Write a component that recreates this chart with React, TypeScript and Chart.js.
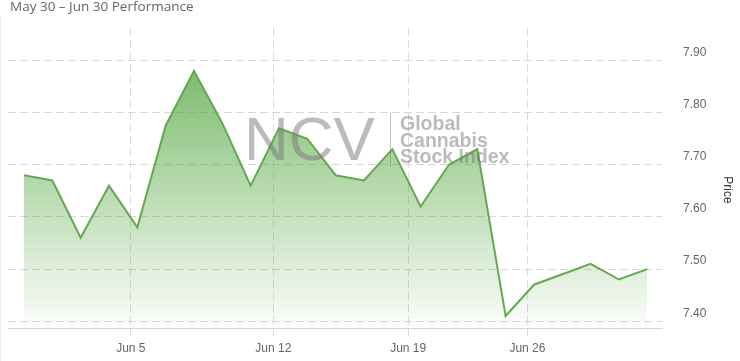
import React, { useEffect, useRef } from "react";
import { Chart, registerables } from "chart.js";

Chart.register(...registerables);

// ---- data ----
const tradingDays = [
  "May 30", "May 31", "Jun 1", "Jun 2", "Jun 5", "Jun 6", "Jun 7", "Jun 8",
  "Jun 9", "Jun 12", "Jun 13", "Jun 14", "Jun 15", "Jun 16", "Jun 20",
  "Jun 21", "Jun 22", "Jun 23", "Jun 26", "Jun 27", "Jun 28", "Jun 29", "Jun 30",
];
const prices = [
  7.68, 7.67, 7.56, 7.66, 7.58, 7.775, 7.88, 7.78, 7.66, 7.77, 7.75, 7.68,
  7.67, 7.73, 7.62, 7.70, 7.73, 7.41, 7.47, 7.49, 7.51, 7.48, 7.50,
];
const yTickValues = [7.4, 7.5, 7.6, 7.7, 7.8, 7.9];
const xTickPositions = [3.77, 8.8, 13.56, 17.77];
const xTickLabels = ["Jun 5", "Jun 12", "Jun 19", "Jun 26"];
const chartTitle = "May 30 \u2013 Jun 30 Performance";
const yAxisTitle = "Price";
const watermarkMain = "NCV";
const watermarkLines = ["Global", "Cannabis", "Stock Index"];

const FONT = '"Liberation Sans", Arial, sans-serif';

const overlayPlugin = {
  id: "overlay",
  afterDatasetsDraw(chart: any) {
    const ctx = chart.ctx;
    ctx.save();
    ctx.fillStyle = "rgba(120,120,120,0.5)";
    ctx.strokeStyle = "rgba(120,120,120,0.45)";
    ctx.textAlign = "left";
    ctx.textBaseline = "alphabetic";
    ctx.font = `62px ${FONT}`;
    ctx.fillText(watermarkMain, 244, 160);
    ctx.lineWidth = 1;
    ctx.beginPath();
    ctx.moveTo(390.5, 113);
    ctx.lineTo(390.5, 167);
    ctx.stroke();
    ctx.font = `bold 19.5px ${FONT}`;
    watermarkLines.forEach((t, i) => {
      ctx.fillText(t, 400, 130 + i * 16.5);
    });
    ctx.restore();
  },
  afterDraw(chart: any) {
    const ctx = chart.ctx;
    ctx.save();
    // title
    ctx.fillStyle = "#666666";
    ctx.font = '13.5px "Open Sans", sans-serif';
    ctx.textAlign = "left";
    ctx.textBaseline = "alphabetic";
    ctx.fillText(chartTitle, 10, 11);
    // axis title
    ctx.translate(727, 190);
    ctx.rotate(Math.PI / 2);
    ctx.fillStyle = "#333333";
    ctx.font = `12px ${FONT}`;
    ctx.textAlign = "center";
    ctx.textBaseline = "middle";
    ctx.fillText(yAxisTitle, 0, 0);
    ctx.restore();
    // faint container edge
    ctx.save();
    ctx.strokeStyle = "#ececec";
    ctx.lineWidth = 1;
    ctx.beginPath();
    ctx.moveTo(0.5, 16);
    ctx.lineTo(0.5, 361);
    ctx.stroke();
    ctx.restore();
  },
};

export default function App() {
  const canvasRef = useRef<HTMLCanvasElement | null>(null);

  useEffect(() => {
    const canvas = canvasRef.current;
    if (!canvas) return;
    const chart = new Chart(canvas, {
      type: "line",
      data: {
        labels: tradingDays,
        datasets: [
          {
            data: prices.map((p, i) => ({ x: i, y: p })),
            borderColor: "#66a852",
            borderWidth: 2,
            pointRadius: 0,
            pointHoverRadius: 0,
            tension: 0,
            fill: "start",
            backgroundColor: (c: any) => {
              const ch = c.chart;
              const ca = ch.chartArea;
              if (!ca) return "rgba(90,170,70,0.4)";
              const g = ch.ctx.createLinearGradient(0, ca.top, 0, ca.bottom);
              g.addColorStop(0, "rgba(88,168,68,0.9)");
              g.addColorStop(1, "rgba(88,168,68,0.02)");
              return g;
            },
          },
        ],
      },
      options: {
        animation: false,
        responsive: false,
        events: [],
        layout: { padding: { top: 20, left: 8, right: 0, bottom: 0 } },
        plugins: {
          legend: { display: false },
          tooltip: { enabled: false },
          title: { display: false },
        },
        scales: {
          x: {
            type: "linear",
            min: -0.565,
            max: 22.52,
            afterBuildTicks: (s: any) => {
              s.ticks = xTickPositions.map((v) => ({ value: v }));
            },
            afterFit: (s: any) => {
              s.height = 33;
            },
            ticks: {
              autoSkip: false,
              maxRotation: 0,
              minRotation: 0,
              padding: 5,
              color: "#666666",
              font: { family: FONT, size: 12 },
              callback: (_v: any, i: number) => xTickLabels[i],
            },
            grid: {
              color: "#dadada",
              lineWidth: 1,
              drawTicks: true,
              tickLength: 8,
              tickColor: "#dadada",
            },
            border: { display: true, color: "#ccd6eb", width: 1, dash: [8, 4] },
          },
          y: {
            type: "linear",
            position: "right",
            min: 7.387,
            max: 7.962,
            afterBuildTicks: (s: any) => {
              s.ticks = yTickValues.map((v) => ({ value: v }));
            },
            afterFit: (s: any) => {
              s.width = 78;
            },
            ticks: {
              padding: 21,
              labelOffset: -8,
              color: "#666666",
              font: { family: FONT, size: 12 },
              callback: (v: any) => Number(v).toFixed(2),
            },
            grid: { color: "#d8d8d8", lineWidth: 1, drawTicks: false },
            border: { display: false, dash: [8, 4] },
          },
        },
      },
      plugins: [overlayPlugin],
    });
    return () => chart.destroy();
  }, []);

  return (
    <div style={{ position: "fixed", left: 0, top: 0, width: 740, height: 361, background: "#fff" }}>
      <canvas ref={canvasRef} width={740} height={361} style={{ display: "block" }} />
    </div>
  );
}
